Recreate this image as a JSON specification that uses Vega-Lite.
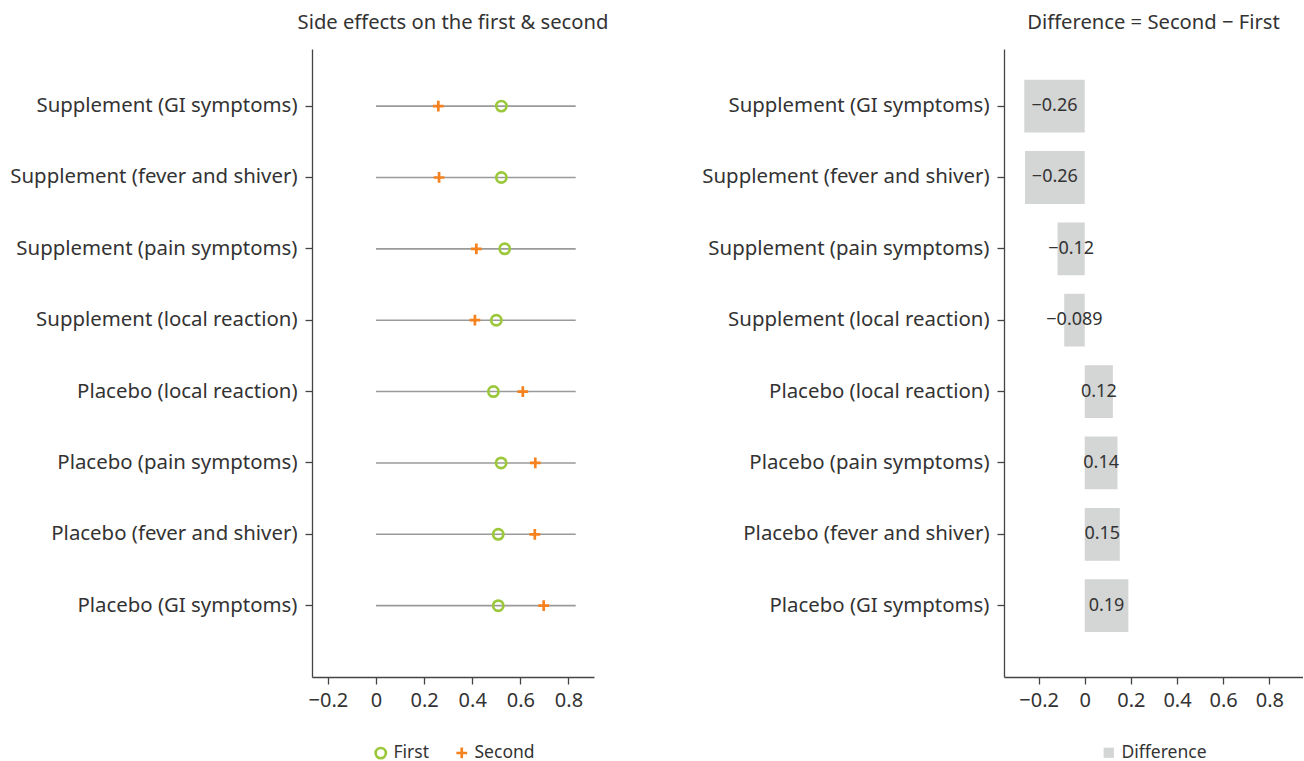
{
  "$schema": "https://vega.github.io/schema/vega-lite/v6.json",
  "background": "white",
  "padding": {"left": 9, "right": 0, "top": 12, "bottom": 0},
  "spacing": 92,
  "resolve": {
    "scale": {"color": "independent", "shape": "independent"},
    "legend": {"color": "independent", "shape": "independent"}
  },
  "data": {
    "values": [
      {"item": "Supplement (GI symptoms)", "First": 0.521, "Second": 0.259, "Difference": -0.262},
      {"item": "Supplement (fever and shiver)", "First": 0.521, "Second": 0.262, "Difference": -0.259},
      {"item": "Supplement (pain symptoms)", "First": 0.535, "Second": 0.417, "Difference": -0.118},
      {"item": "Supplement (local reaction)", "First": 0.500, "Second": 0.411, "Difference": -0.089},
      {"item": "Placebo (local reaction)", "First": 0.488, "Second": 0.610, "Difference": 0.122},
      {"item": "Placebo (pain symptoms)", "First": 0.520, "Second": 0.662, "Difference": 0.142},
      {"item": "Placebo (fever and shiver)", "First": 0.508, "Second": 0.660, "Difference": 0.152},
      {"item": "Placebo (GI symptoms)", "First": 0.508, "Second": 0.697, "Difference": 0.189}
    ]
  },
  "hconcat": [
    {
      "width": 282,
      "height": 628,
      "title": {"text": "Side effects on the first & second"},
      "encoding": {
        "y": {
          "field": "item",
          "type": "nominal",
          "sort": null,
          "title": null,
          "scale": {"type": "band", "paddingInner": 0.26, "paddingOuter": 0.53, "align": 0.406}
        }
      },
      "layer": [
        {
          "mark": {"type": "rule", "color": "#9a9a9a", "strokeWidth": 1.6},
          "encoding": {
            "x": {"datum": 0, "type": "quantitative", "scale": {"domain": [-0.266, 0.906], "nice": false, "zero": false}, "axis": {"values": [-0.2, 0, 0.2, 0.4, 0.6, 0.8], "format": "~g", "title": null}},
            "x2": {"datum": 0.83}
          }
        },
        {
          "transform": [{"fold": ["First", "Second"], "as": ["time", "value"]}],
          "mark": {"type": "point", "filled": false, "strokeWidth": 2.7, "size": 105, "opacity": 1},
          "encoding": {
            "x": {"field": "value", "type": "quantitative"},
            "color": {
              "field": "time",
              "type": "nominal",
              "scale": {"domain": ["First", "Second"], "range": ["#9BC83A", "#F5821F"]},
              "legend": {"title": null, "orient": "bottom", "direction": "horizontal"}
            },
            "shape": {
              "field": "time",
              "type": "nominal",
              "scale": {"domain": ["First", "Second"], "range": ["circle", "M-1.05,0H1.05M0,-1.05V1.05"]},
              "legend": {"title": null, "orient": "bottom", "direction": "horizontal"}
            }
          }
        }
      ]
    },
    {
      "width": 299,
      "height": 628,
      "title": {"text": "Difference = Second \u2212 First"},
      "encoding": {
        "y": {
          "field": "item",
          "type": "nominal",
          "sort": null,
          "title": null,
          "scale": {"type": "band", "paddingInner": 0.26, "paddingOuter": 0.53, "align": 0.406}
        }
      },
      "layer": [
        {
          "mark": {"type": "bar"},
          "encoding": {
            "x": {"field": "Difference", "type": "quantitative", "scale": {"domain": [-0.35, 0.946], "nice": false, "zero": false}, "axis": {"values": [-0.2, 0, 0.2, 0.4, 0.6, 0.8], "format": "~g", "title": null}},
            "color": {"datum": "Difference", "type": "nominal", "scale": {"domain": ["Difference"], "range": ["#D4D5D5"]}, "legend": {"title": null, "orient": "bottom", "direction": "horizontal", "symbolType": "square"}}
          }
        },
        {
          "mark": {"type": "text", "fontSize": 18, "color": "#333333", "align": "center", "baseline": "middle"},
          "encoding": {
            "x": {"field": "Difference", "type": "quantitative", "scale": {"domain": [-0.70, 1.892], "nice": false, "zero": false}, "axis": null},
            "text": {"field": "Difference", "type": "quantitative", "format": ".2"}
          }
        }
      ],
      "resolve": {"scale": {"x": "independent"}}
    }
  ],
  "config": {
    "font": "Noto Sans",
    "view": {"stroke": null},
    "title": {"fontSize": 20.2, "fontWeight": "normal", "color": "#333333", "anchor": "middle", "offset": 16, "font": "Noto Sans"},
    "axis": {
      "labelFontSize": 20,
      "labelColor": "#333333",
      "labelFont": "Noto Sans",
      "labelLimit": 0,
      "domainColor": "#444444",
      "domainWidth": 1.3,
      "tickColor": "#444444",
      "tickWidth": 1.3,
      "tickSize": 7,
      "labelPadding": 6,
      "grid": false
    },
    "axisY": {"labelPadding": 8, "labelFontSize": 20.4},
    "legend": {
      "labelFontSize": 17.5,
      "labelColor": "#333333",
      "labelFont": "Noto Sans",
      "symbolStrokeWidth": 2.7,
      "symbolSize": 105,
      "columnPadding": 20,
      "offset": 34,
      "layout": {"bottom": {"anchor": "middle"}}
    }
  }
}
